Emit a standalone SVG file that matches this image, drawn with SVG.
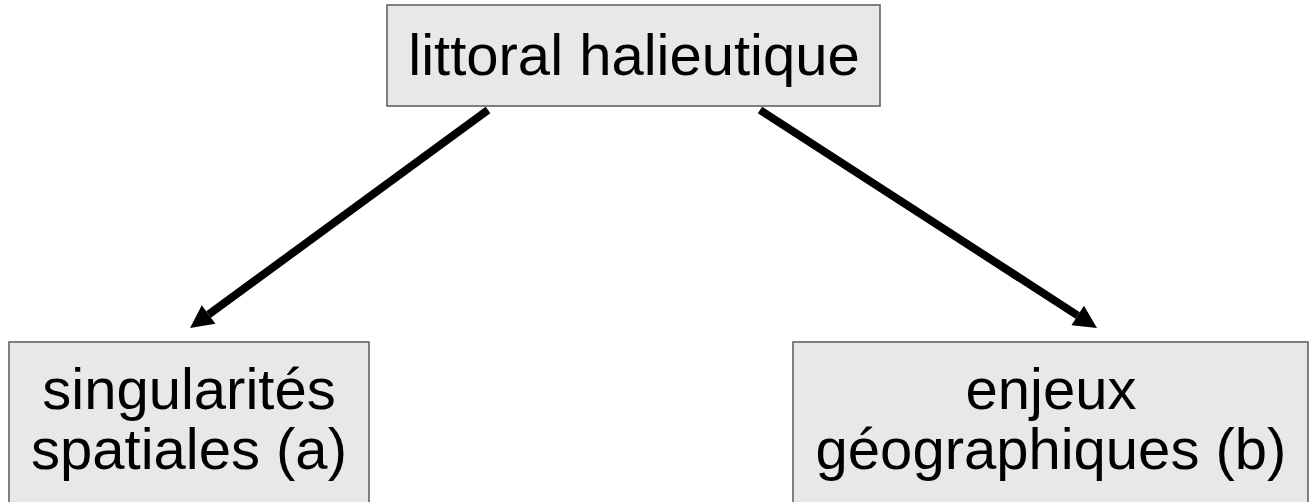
<svg xmlns="http://www.w3.org/2000/svg" width="1310" height="502" viewBox="0 0 1310 502">
<style>
.box{fill:#e8e8e8;stroke:#5a5a5a;stroke-width:1.5}
.lbl{font-family:"Liberation Sans",Arial,sans-serif;font-size:58px;fill:#000;text-anchor:middle}
.conn{stroke:#000;stroke-width:8;fill:none;marker-end:url(#ah)}
</style>
<defs>
<marker id="ah" markerUnits="userSpaceOnUse" markerWidth="24" markerHeight="24" refX="0" refY="11.5" orient="auto" overflow="visible">
<path d="M0,0 L23,11.5 L0,23 z" fill="#000"/>
</marker>
</defs>
<rect width="1310" height="502" fill="#fff"/>
<g id="connectors">
<line class="conn" x1="488" y1="110" x2="208.6" y2="314.5"/>
<line class="conn" x1="760" y1="110" x2="1077.7" y2="315.5"/>
</g>
<g id="node-top">
<rect class="box" x="387" y="5" width="493" height="101"/>
<text class="lbl" x="634" y="75">littoral halieutique</text>
</g>
<g id="node-a">
<rect class="box" x="9" y="342" width="360" height="180"/>
<text class="lbl" x="189" y="409">singularités</text>
<text class="lbl" x="189" y="469">spatiales (a)</text>
</g>
<g id="node-b">
<rect class="box" x="793" y="342" width="515" height="180"/>
<text class="lbl" x="1051" y="409">enjeux</text>
<text class="lbl" x="1051" y="469">géographiques (b)</text>
</g>
</svg>
